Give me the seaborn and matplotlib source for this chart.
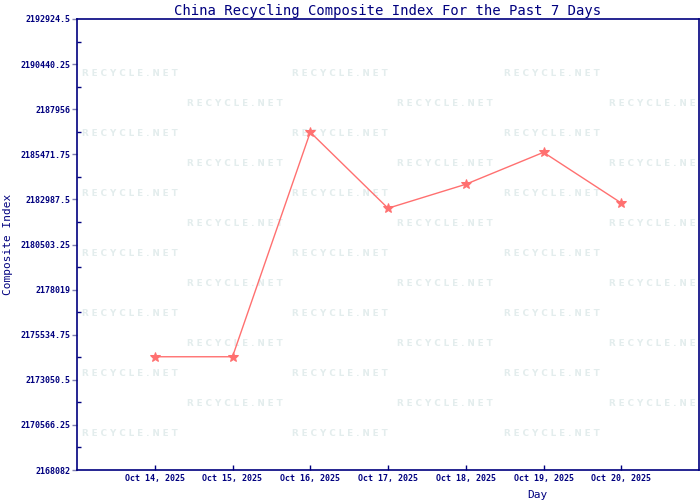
import numpy as np
import pandas as pd
import matplotlib
matplotlib.use('Agg')
import matplotlib.pyplot as plt
import seaborn as sns
from matplotlib.ticker import FixedLocator

days = ['Oct 14, 2025', 'Oct 15, 2025', 'Oct 16, 2025', 'Oct 17, 2025',
        'Oct 18, 2025', 'Oct 19, 2025', 'Oct 20, 2025']
index_values = [2174320, 2174320, 2186690, 2182500, 2183820, 2185580, 2182790]
y_ticks = [2168082, 2170566.25, 2173050.5, 2175534.75, 2178019, 2180503.25,
           2182987.5, 2185471.75, 2187956, 2190440.25, 2192924.5]
y_tick_labels = ['2168082', '2170566.25', '2173050.5', '2175534.75', '2178019',
                 '2180503.25', '2182987.5', '2185471.75', '2187956',
                 '2190440.25', '2192924.5']

df = pd.DataFrame({'pos': range(len(days)), 'Day': days, 'Index': index_values})

sns.set_style('white')
plt.rcParams['font.family'] = ['DejaVu Sans Mono']
navy = '#00007f'

fig = plt.figure(figsize=(7, 5), dpi=100)
ax = fig.add_axes([77/700, 30/500, 622/700, 451/500])

# faint watermark pattern
for r in range(13):
    yy = 73 + 30 * r
    xs = [130, 340, 552] if r % 2 == 0 else [235, 445, 657]
    for xx in xs:
        ax.text((xx - 77) / 622, (470 - yy) / 451, 'R E C Y C L E . N E T',
                transform=ax.transAxes, ha='center', va='center', fontsize=6.3,
                fontweight='bold', family='DejaVu Sans', color='#e3eded',
                zorder=0, clip_on=True)

sns.lineplot(data=df, x='pos', y='Index', ax=ax, color='#ff7070', linewidth=1,
             marker='*', markersize=7, markeredgecolor='#ff7070', zorder=3)

ax.set_xlim(-1, 7)
ax.set_ylim(y_ticks[0], y_ticks[-1])
ax.set_xticks(range(len(days)))
ax.set_xticklabels(days)
ax.set_yticks(y_ticks)
ax.set_yticklabels(y_tick_labels)
mids = [(a + b) / 2 for a, b in zip(y_ticks[:-1], y_ticks[1:])]
ax.yaxis.set_minor_locator(FixedLocator(mids))

ax.tick_params(axis='y', which='major', direction='out', length=3.6, width=1, left=True,
               color='#8080b0', labelsize=6, labelcolor=navy, pad=0.8)
ax.tick_params(axis='y', which='minor', direction='in', length=3, width=1, color=navy, left=True)
ax.tick_params(axis='x', which='major', direction='in', length=3.6, width=1, bottom=True,
               color=navy, labelsize=6, labelcolor=navy, pad=3)
for lab in ax.get_yticklabels() + ax.get_xticklabels():
    lab.set_fontweight('bold')

for s in ax.spines.values():
    s.set_color(navy)
    s.set_linewidth(1.2)

ax.set_xlabel('Day', fontsize=8, color=navy)
ax.xaxis.set_label_coords((537 - 77) / 622, -0.045)
ax.set_ylabel('Composite Index', fontsize=8, color=navy)
ax.yaxis.set_label_coords(-0.103, 0.5)
ax.set_title('China Recycling Composite Index For the Past 7 Days', fontsize=10,
             color=navy, pad=3)

fig.savefig('out.png', dpi=100)
